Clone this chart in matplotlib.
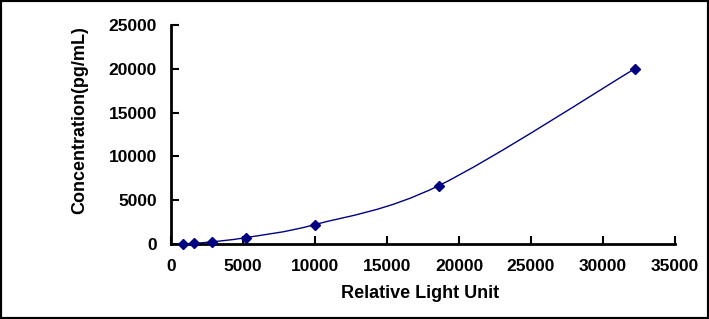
import matplotlib
matplotlib.use("Agg")
import matplotlib.pyplot as plt
from matplotlib.path import Path
from matplotlib.patches import PathPatch, Rectangle
import numpy as np

rlu = [850, 1580, 2850, 5230, 10000, 18600, 32200]
conc = [0, 82, 247, 741, 2222, 6667, 20000]
xticks = [0, 5000, 10000, 15000, 20000, 25000, 30000, 35000]
yticks = [0, 5000, 10000, 15000, 20000, 25000]

navy = "#000080"
plt.rcParams['font.family'] = ['Liberation Sans', 'DejaVu Sans']

fig = plt.figure(figsize=(7.09, 3.19), dpi=100)
ax = fig.add_axes([171/709, 1-244/319, (675-171)/709, (244-25)/319])

# smoothed line (Catmull-Rom via cubic Bezier segments, Excel-like)
pts = np.column_stack([rlu, conc]).astype(float)
verts = [tuple(pts[0])]
codes = [Path.MOVETO]
n = len(pts)
for i in range(n - 1):
    p0 = pts[i - 1] if i > 0 else pts[i]
    p1 = pts[i]
    p2 = pts[i + 1]
    p3 = pts[i + 2] if i + 2 < n else pts[i + 1]
    c1 = p1 + (p2 - p0) / 6.0
    c2 = p2 - (p3 - p1) / 6.0
    verts += [tuple(c1), tuple(c2), tuple(p2)]
    codes += [Path.CURVE4] * 3
ax.add_patch(PathPatch(Path(verts, codes), fill=False, edgecolor=navy, lw=1.0, clip_on=False))
ax.plot(rlu, conc, linestyle='none', marker='D', markersize=5, color=navy, clip_on=False, zorder=3)

ax.set_xlim(0, 35000)
ax.set_ylim(0, 25000)
ax.set_xticks(xticks)
ax.set_yticks(yticks)
ax.set_xticklabels([str(v) for v in xticks])
ax.set_yticklabels([str(v) for v in yticks])
for s in ['top', 'right']:
    ax.spines[s].set_visible(False)
for s in ['left', 'bottom']:
    ax.spines[s].set_linewidth(2)
    ax.spines[s].set_color('black')
ax.tick_params(axis='both', direction='in', length=6, width=1.5, labelsize=12.5)
ax.tick_params(axis='x', pad=11)
ax.tick_params(axis='y', pad=10)
for lab in ax.get_xticklabels() + ax.get_yticklabels():
    lab.set_fontweight('bold')
ax.set_xlabel("Relative Light Unit", fontsize=13, fontweight='bold')
ax.xaxis.set_label_coords((420 - 171) / 504, -(293 - 244) / 219)
ax.set_ylabel("Concentration(pg/mL)", fontsize=13, fontweight='bold')
ax.yaxis.set_label_coords((80 - 171) / 504, (244 - 120) / 219)
ax.xaxis.label.set_va('center')
ax.yaxis.label.set_va('center')

fig.patches.append(Rectangle((0, 0), 1, 1, transform=fig.transFigure, fill=False,
                             edgecolor='black', lw=3, zorder=10))
fig.savefig("out.png", dpi=100)
